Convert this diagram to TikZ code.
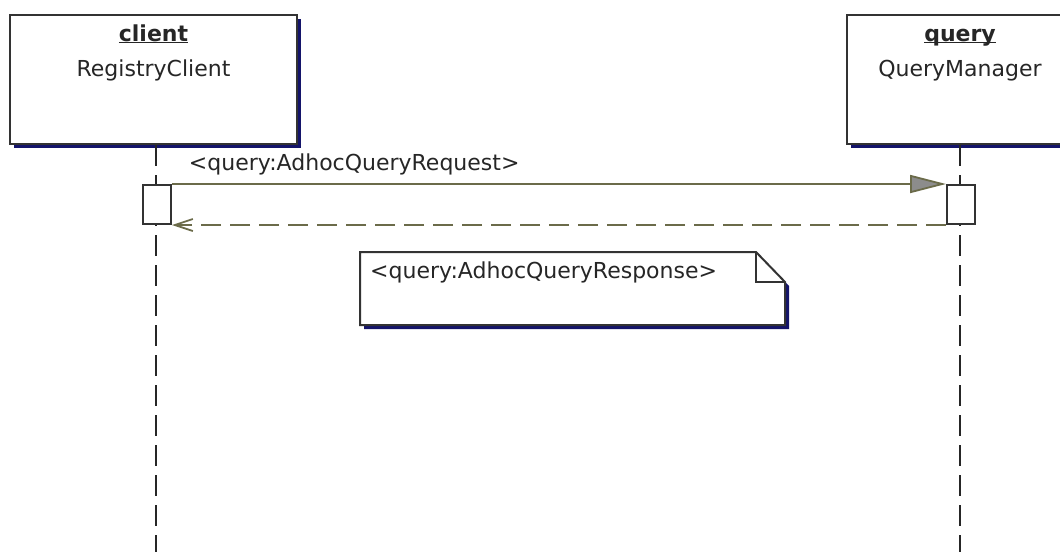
\documentclass[tikz,border=0pt]{standalone}
\usepackage{fontspec}
\setmainfont{DejaVu Sans}
\usetikzlibrary{arrows.meta,shadows}
\definecolor{shadowblue}{HTML}{14146A}
\definecolor{msgline}{HTML}{6B6B4A}

\begin{document}
\begin{tikzpicture}[x=1pt, y=-1pt,
    objbox/.style={draw=black!80, fill=white, line width=2pt, inner sep=0pt,
        anchor=north west, minimum height=129pt,
        drop shadow={shadow xshift=4pt, shadow yshift=-4pt, fill=shadowblue, opacity=1}},
    actbox/.style={draw=black!80, fill=white, line width=2pt, inner sep=0pt,
        anchor=north west, minimum width=28pt, minimum height=39pt},
    lifeline/.style={black!85, line width=2pt, dash pattern=on 21pt off 9pt},
    msg/.style={msgline, line width=1.8pt},
    lbl/.style={font=\fontsize{22}{26}\selectfont, text=black!85, inner sep=0pt}]

    \useasboundingbox (0,0) rectangle (1060,552);
    \clip (0,0) rectangle (1060,552);

    % objects
    \node[objbox, minimum width=287pt] (client) at (9,14) {};
    \node[objbox, minimum width=226pt] (query) at (846,14) {};
    \node[lbl, anchor=base] (clientname) at ([yshift=-27pt]client.north) {\underline{\smash{\textbf{client}}}};
    \node[lbl, anchor=base] (clienttype) at ([yshift=-62pt]client.north) {RegistryClient};
    \node[lbl, anchor=base] (queryname) at ([yshift=-27pt]query.north) {\underline{\smash{\textbf{query}}}};
    \node[lbl, anchor=base] (querytype) at ([yshift=-62pt]query.north) {QueryManager};

    % lifelines
    \coordinate (clientend) at (156,552);
    \coordinate (queryend) at (960,552);
    \draw[lifeline] (client.south -| clientend) -- (clientend);
    \draw[lifeline] (query.south -| queryend) -- (queryend);

    % activations
    \node[actbox] (clientact) at (142,184) {};
    \node[actbox] (queryact) at (946,184) {};

    % messages
    \draw[msg, -{Triangle[length=36pt, width=18pt, fill=gray!90]}]
        (clientact.north east) -- (queryact.north west)
        node[lbl, pos=0, anchor=south west, xshift=16pt, yshift=8pt] (request) {<query:AdhocQueryRequest>};
    \draw[msg, dash pattern=on 20pt off 9pt, -{Straight Barb[length=18pt, width=12pt]}]
        (queryact.south west) -- (clientact.south east);

    % note
    \fill[shadowblue] (364,256) -- (760,256) -- (789,286) -- (789,329) -- (364,329) -- cycle;
    \draw[black!80, fill=white, line width=2pt]
        (360,252) -- (756,252) -- (785,282) -- (785,325) -- (360,325) -- cycle;
    \draw[black!80, line width=2pt] (756,252) -- (756,282) -- (785,282);
    \node[lbl, anchor=west] (response) at (370,272) {<query:AdhocQueryResponse>};
\end{tikzpicture}
\end{document}
